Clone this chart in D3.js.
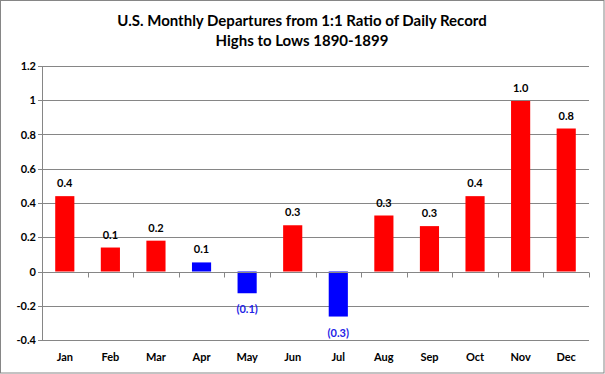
<!DOCTYPE html>
<html>
<head>
<meta charset="utf-8">
<script src="https://cdn.jsdelivr.net/npm/d3@7"></script>
<style>
  body { margin: 0; background: #fff; }
  text { font-family: Lato, "Open Sans", sans-serif; font-weight: bold; }
</style>
</head>
<body>
<div id="container"></div>
<script>
// chart values
const months = ["Jan", "Feb", "Mar", "Apr", "May", "Jun", "Jul", "Aug", "Sep", "Oct", "Nov", "Dec"];
const values = [0.44, 0.14, 0.18, 0.053, -0.127, 0.27, -0.263, 0.327, 0.265, 0.44, 0.996, 0.835];
const valueLabels = ["0.4", "0.1", "0.2", "0.1", "(0.1)", "0.3", "(0.3)", "0.3", "0.3", "0.4", "1.0", "0.8"];
const barColors = ["red", "red", "red", "blue", "blue", "red", "blue", "red", "red", "red", "red", "red"];
const yTicks = [-0.4, -0.2, 0, 0.2, 0.4, 0.6, 0.8, 1, 1.2];
const yTickLabels = ["-0.4", "-0.2", "0", "0.2", "0.4", "0.6", "0.8", "1", "1.2"];
const titleLines = ["U.S. Monthly Departures from 1:1 Ratio of Daily Record", "Highs to Lows 1890-1899"];

const width = 605, height = 374;
const GRID = "#868686";

const svg = d3.create("svg")
    .attr("width", width)
    .attr("height", height);

// outer chart frame
svg.append("rect")
    .attr("x", 0.5).attr("y", 0.5)
    .attr("width", width - 1.5).attr("height", height - 1.5)
    .attr("fill", "#fff")
    .attr("stroke", GRID);

let x = d3.scaleBand().domain(months).range([42, 589]).padding(0);
let y = d3.scaleLinear().domain([-0.4, 1.2]).range([340, 66]);
const px = v => Math.round(v) + 0.5;

// title
svg.append("g").selectAll("text").data(titleLines).enter().append("text")
    .attr("x", 302)
    .attr("y", (d, i) => 26 + i * 20)
    .attr("text-anchor", "middle")
    .attr("font-size", 15)
    .attr("fill", "#000")
    .text(d => d);

// horizontal gridlines
svg.append("g").selectAll("line").data(yTicks.filter(d => d !== 0)).enter().append("line")
    .attr("x1", 42).attr("x2", 589)
    .attr("y1", d => px(y(d))).attr("y2", d => px(y(d)))
    .attr("stroke", GRID);

// y axis
svg.append("line")
    .attr("x1", px(42)).attr("x2", px(42))
    .attr("y1", y(1.2)).attr("y2", px(y(-0.4)))
    .attr("stroke", GRID);
svg.append("g").selectAll("line").data(yTicks).enter().append("line")
    .attr("x1", 38).attr("x2", 42)
    .attr("y1", d => px(y(d))).attr("y2", d => px(y(d)))
    .attr("stroke", GRID);
svg.append("g").selectAll("text").data(yTicks).enter().append("text")
    .attr("x", 36)
    .attr("y", d => y(d) + 4)
    .attr("text-anchor", "end")
    .attr("font-size", 11)
    .attr("fill", "#000")
    .text((d, i) => yTickLabels[i]);

// bars
const barW = x.bandwidth() * 0.42;
svg.append("g").selectAll("rect").data(values).enter().append("rect")
    .attr("x", (d, i) => x(months[i]) + (x.bandwidth() - barW) / 2)
    .attr("y", d => y(Math.max(0, d)))
    .attr("width", barW)
    .attr("height", d => Math.abs(y(d) - y(0)))
    .attr("fill", (d, i) => barColors[i] === "red" ? "#ff0000" : "#0000ff");

// x axis at zero with category boundary ticks
svg.append("line")
    .attr("x1", 42).attr("x2", 589)
    .attr("y1", px(y(0))).attr("y2", px(y(0)))
    .attr("stroke", GRID);
svg.append("g").selectAll("line").data(months.slice(1).concat(["end"])).enter().append("line")
    .attr("x1", (d, i) => px(42 + (i + 1) * x.step()))
    .attr("x2", (d, i) => px(42 + (i + 1) * x.step()))
    .attr("y1", px(y(0))).attr("y2", px(y(0)) + 5)
    .attr("stroke", GRID);

// month labels
svg.append("g").selectAll("text").data(months).enter().append("text")
    .attr("x", d => x(d) + x.bandwidth() / 2)
    .attr("y", 361)
    .attr("text-anchor", "middle")
    .attr("font-size", 11)
    .attr("fill", "#000")
    .text(d => d);

// data labels
svg.append("g").selectAll("text").data(values).enter().append("text")
    .attr("x", (d, i) => x(months[i]) + x.bandwidth() / 2)
    .attr("y", d => d >= 0 ? y(d) - 9 : y(d) + 20)
    .attr("text-anchor", "middle")
    .attr("font-size", 11)
    .attr("fill", d => d >= 0 ? "#000" : "#2323e6")
    .text((d, i) => valueLabels[i]);

container.append(svg.node());
</script>
</body>
</html>
